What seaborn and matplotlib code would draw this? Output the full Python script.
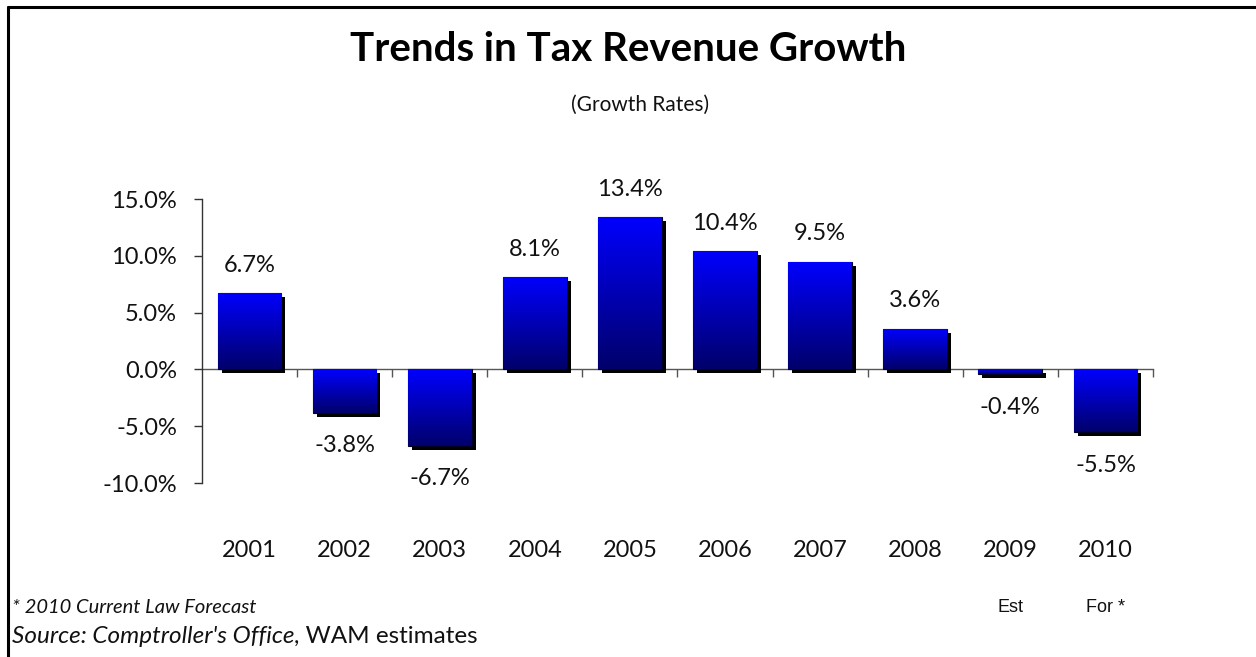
import numpy as np
import pandas as pd
import matplotlib
matplotlib.use("Agg")
import matplotlib.pyplot as plt
from matplotlib.colors import LinearSegmentedColormap
from matplotlib.patches import Rectangle
from matplotlib.lines import Line2D
import matplotlib.transforms as mtransforms
import seaborn as sns

# Tax revenue growth by fiscal year (percent)
years = ["2001", "2002", "2003", "2004", "2005", "2006", "2007", "2008", "2009", "2010"]
growth = [6.7, -3.8, -6.7, 8.1, 13.4, 10.4, 9.5, 3.6, -0.4, -5.5]
year_notes = ["", "", "", "", "", "", "", "", "Est", "For *"]
y_ticks = [-10.0, -5.0, 0.0, 5.0, 10.0, 15.0]

sns.set_theme(style="white")
plt.rcParams["font.family"] = ["Lato", "DejaVu Sans"]

df = pd.DataFrame({"year": years, "growth": growth})

fig = plt.figure(figsize=(12.56, 6.57), dpi=100)
ax = fig.add_axes([0.1608, 0.2648, 0.7572, 0.4322])

sns.barplot(data=df, x="year", y="growth", color="#0000ff", width=0.67,
            edgecolor="#000020", linewidth=0.8, ax=ax, zorder=3)

# vertical blue-to-navy gradient inside each bar, plus a drop shadow
grad_cmap = LinearSegmentedColormap.from_list("bar_grad", ["#0000ff", "#00006a"])
grad = np.linspace(0, 1, 256).reshape(-1, 1)
shadow_shift = mtransforms.ScaledTranslation(4 / 100, -4 / 100, fig.dpi_scale_trans)
for patch in ax.patches:
    x0, w = patch.get_x(), patch.get_width()
    y0, h = patch.get_y(), patch.get_height()
    top, bottom = max(y0, y0 + h), min(y0, y0 + h)
    shadow = Rectangle((x0, y0), w, h, facecolor="black", edgecolor="none",
                       transform=ax.transData + shadow_shift, zorder=2)
    ax.add_patch(shadow)
    im = ax.imshow(grad, cmap=grad_cmap, aspect="auto", origin="upper",
                   extent=[x0, x0 + w, bottom, top], zorder=3.5,
                   interpolation="bilinear")
    im.set_clip_path(patch)

n = len(years)
ax.set_xlim(-0.5, n - 0.5)
ax.set_ylim(y_ticks[0], y_ticks[-1])

# value labels
for i, v in enumerate(growth):
    off = 20 if v >= 0 else -24
    ax.annotate(f"{v:.1f}%", (i, v), xytext=(0, off), textcoords="offset points",
                ha="center", va="center", fontsize=17, color="#111111")

# axes styling: y spine on the left, x axis line at zero with boundary ticks
for s in ["top", "right"]:
    ax.spines[s].set_visible(False)
ax.spines["left"].set_color("#333333")
ax.spines["left"].set_linewidth(1.0)
ax.spines["bottom"].set_position(("data", 0))
ax.spines["bottom"].set_color("#555555")
ax.spines["bottom"].set_linewidth(1.0)
ax.spines["bottom"].set_zorder(1)

ax.set_yticks(y_ticks)
ax.set_yticklabels([f"{t:.1f}%" for t in y_ticks], fontsize=17, color="#111111")
ax.tick_params(axis="y", direction="out", length=6, width=1, color="#333333", pad=12, left=True)

ax.set_xticks(np.arange(n) + 0.5)
ax.set_xticklabels([])
ax.tick_params(axis="x", direction="out", length=6, width=1, color="#555555", bottom=True)
ax.set_xlabel("")
ax.set_ylabel("")
ax.grid(False)

# year labels below the plot area
xt = mtransforms.blended_transform_factory(ax.transData, ax.transAxes)
for i, (yr, note) in enumerate(zip(years, year_notes)):
    ax.text(i, -0.236, yr, transform=xt, ha="center", va="center",
            fontsize=17, color="#111111")
    if note:
        ax.text(i, -0.437, note, transform=xt, ha="center", va="center",
                fontsize=13, color="#111111", family=["Liberation Sans", "DejaVu Sans"])

# titles
fig.text(0.5, 0.924, "Trends in Tax Revenue Growth", ha="center", va="center",
         fontsize=29, fontweight="bold", color="black")
fig.text(0.51, 0.84, "(Growth Rates)", ha="center", va="center",
         fontsize=15, color="#111111")

# footnotes
fig.text(0.0095, 0.075, "* 2010 Current Law Forecast", ha="left", va="center",
         fontsize=14.5, style="italic", color="#111111")
src = fig.text(0.0095, 0.031, "Source: Comptroller's Office", ha="left", va="center",
               fontsize=17.5, style="italic", color="#111111")
fig.canvas.draw()
bb = src.get_window_extent()
fig.text(bb.x1 / fig.bbox.width, 0.031, ", WAM estimates", ha="left", va="center",
         fontsize=17.5, color="#111111")

# frame lines along the top and left of the figure
fig.add_artist(Line2D([0.0063, 1.0], [0.9895, 0.9895], transform=fig.transFigure,
                      color="black", linewidth=2.2))
fig.add_artist(Line2D([0.0063, 0.0063], [0.0, 0.9895], transform=fig.transFigure,
                      color="black", linewidth=2.2))

fig.savefig("out.png", dpi=100, facecolor="white")
